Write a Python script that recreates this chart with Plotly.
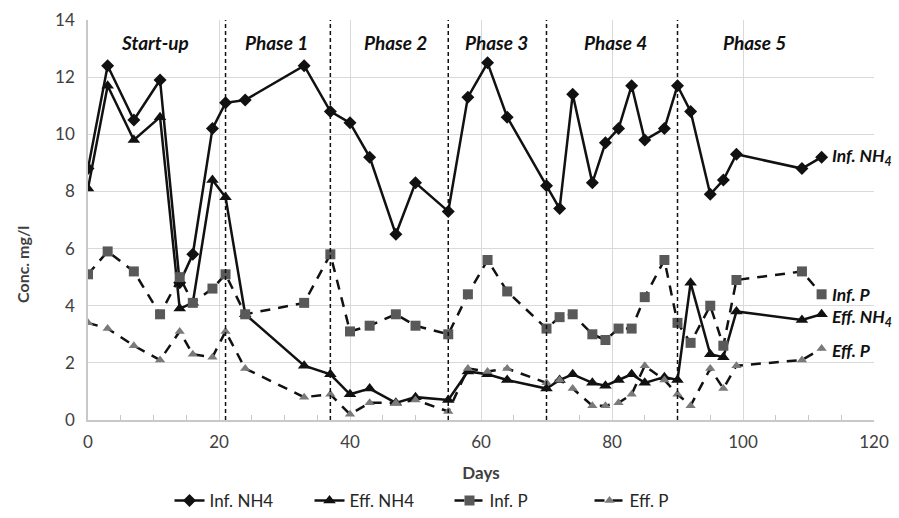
import plotly.graph_objects as go

# ---------------- data ----------------
days_inf_nh4 = [0, 3, 7, 11, 14, 16, 19, 21, 24, 33, 37, 40, 43, 47, 50, 55, 58, 61, 64, 70,
                72, 74, 77, 79, 81, 83, 85, 88, 90, 92, 95, 97, 99, 109, 112]
inf_nh4 = [8.8, 12.4, 10.5, 11.9, 4.8, 5.8, 10.2, 11.1, 11.2, 12.4, 10.8, 10.4, 9.2, 6.5, 8.3,
           7.3, 11.3, 12.5, 10.6, 8.2, 7.4, 11.4, 8.3, 9.7, 10.2, 11.7, 9.8, 10.2, 11.7, 10.8,
           7.9, 8.4, 9.3, 8.8, 9.2]

days_eff_nh4 = [0, 3, 7, 11, 14, 16, 19, 21, 24, 33, 37, 40, 43, 47, 50, 55, 58, 61, 64, 70,
                72, 74, 77, 79, 81, 83, 85, 88, 90, 92, 95, 97, 99, 109, 112]
eff_nh4 = [8.1, 11.7, 9.8, 10.6, 3.9, 4.1, 8.4, 7.8, 3.7, 1.9, 1.6, 0.9, 1.1, 0.6, 0.8, 0.7,
           1.7, 1.6, 1.4, 1.1, 1.4, 1.6, 1.3, 1.2, 1.4, 1.6, 1.3, 1.5, 1.4, 4.8, 2.3, 2.2,
           3.8, 3.5, 3.7]

days_inf_p = [0, 3, 7, 11, 14, 16, 19, 21, 24, 33, 37, 40, 43, 47, 50, 55, 58, 61, 64, 70,
              72, 74, 77, 79, 81, 83, 85, 88, 90, 92, 95, 97, 99, 109, 112]
inf_p = [5.1, 5.9, 5.2, 3.7, 5.0, 4.1, 4.6, 5.1, 3.7, 4.1, 5.8, 3.1, 3.3, 3.7, 3.3, 3.0, 4.4,
         5.6, 4.5, 3.2, 3.6, 3.7, 3.0, 2.8, 3.2, 3.2, 4.3, 5.6, 3.4, 2.7, 4.0, 2.6, 4.9, 5.2,
         4.4]

days_eff_p = [0, 3, 7, 11, 14, 16, 19, 21, 24, 33, 37, 40, 43, 47, 50, 55, 58, 61, 64, 70,
              72, 74, 77, 79, 81, 83, 85, 88, 90, 92, 95, 97, 99, 109, 112]
eff_p = [3.4, 3.2, 2.6, 2.1, 3.1, 2.3, 2.2, 3.1, 1.8, 0.8, 0.9, 0.2, 0.6, 0.6, 0.7, 0.3, 1.8,
         1.7, 1.8, 1.3, 1.4, 1.1, 0.5, 0.5, 0.6, 0.9, 1.9, 1.4, 0.9, 0.5, 1.8, 1.1, 1.9, 2.1,
         2.5]

phase_bounds = [21, 37, 55, 70, 90]
phase_names = ["Start-up", "Phase 1", "Phase 2", "Phase 3", "Phase 4", "Phase 5"]
phase_label_x = [10.2, 28.8, 47, 62.3, 80.6, 101.8]
phase_label_y = 13.2

series_labels = ["Inf. NH<sub>4</sub>", "Inf. P", "Eff. NH<sub>4</sub>", "Eff. P"]
series_label_y = [9.2, 4.4, 3.57, 2.45]
series_label_x = 113.3

FONT = "Lato, 'Open Sans', sans-serif"

fig = go.Figure()

fig.add_trace(go.Scatter(
    x=days_inf_nh4, y=inf_nh4, name="Inf. NH4", mode="lines+markers",
    line=dict(color="#111111", width=2.5),
    marker=dict(symbol="diamond", size=10, color="#111111")))
fig.add_trace(go.Scatter(
    x=days_eff_nh4, y=eff_nh4, name="Eff. NH4", mode="lines+markers",
    line=dict(color="#111111", width=2.5),
    marker=dict(symbol="triangle-up", size=11, color="#111111")))
fig.add_trace(go.Scatter(
    x=days_inf_p, y=inf_p, name="Inf. P", mode="lines+markers",
    line=dict(color="#111111", width=2.5, dash="10px,8px"),
    marker=dict(symbol="square", size=10, color="#595959")))
fig.add_trace(go.Scatter(
    x=days_eff_p, y=eff_p, name="Eff. P", mode="lines+markers",
    line=dict(color="#111111", width=2.5, dash="10px,8px"),
    marker=dict(symbol="triangle-up", size=9, color="#7a7a7a")))

for b in phase_bounds:
    fig.add_shape(type="line", xref="x", yref="y", x0=b, x1=b, y0=0, y1=14,
                  line=dict(color="#111111", width=1.5, dash="4px,3px"), layer="above")

for name, px in zip(phase_names, phase_label_x):
    fig.add_annotation(x=px, y=phase_label_y, xref="x", yref="y", text=f"<b><i>{name}</i></b>",
                       showarrow=False, font=dict(family=FONT, size=19, color="#111111"))

for lab, ly in zip(series_labels, series_label_y):
    fig.add_annotation(x=series_label_x, y=ly, xref="x", yref="y", text=f"<b><i>{lab}</i></b>",
                       showarrow=False, xanchor="left",
                       font=dict(family=FONT, size=17.5, color="#111111"))

# y-axis title (placed like the original, below the vertical centre)
fig.add_annotation(x=-0.084, y=0.39, xref="paper", yref="paper", text="<b>Conc. mg/l</b>",
                   textangle=-90, showarrow=False, xanchor="center", yanchor="middle",
                   font=dict(family=FONT, size=16, color="#404040"))

fig.update_layout(
    width=899, height=518,
    margin=dict(l=88, r=25, t=20, b=98, autoexpand=False),
    paper_bgcolor="white", plot_bgcolor="white",
    font=dict(family=FONT, size=17, color="#404040"),
    showlegend=True,
    legend=dict(orientation="h", x=0.5, xanchor="center", xref="container",
                y=0.033, yanchor="middle", yref="container",
                font=dict(family=FONT, size=17, color="#262626"),
                entrywidth=95, entrywidthmode="pixels", tracegroupgap=0),
    xaxis=dict(range=[0, 120], dtick=20, showgrid=True, gridcolor="#d9d9d9", gridwidth=1,
               showline=True, linecolor="#c8c8c8", linewidth=1.5, zeroline=False,
               ticks="", tickfont=dict(size=17, color="#404040"), automargin=False,
               ticklabelstandoff=6,
               minor=dict(dtick=5, ticks="inside", ticklen=5, tickcolor="#c8c8c8",
                          showgrid=False),
               title=dict(text="<b>Days</b>", font=dict(size=17, color="#404040"), standoff=16)),
    yaxis=dict(range=[0, 14], dtick=2, showgrid=True, gridcolor="#d9d9d9", gridwidth=1,
               showline=True, linecolor="#c8c8c8", linewidth=1.5, zeroline=False,
               ticks="", tickfont=dict(size=17, color="#404040"), automargin=False,
               ticklabelstandoff=8),
)

fig.write_html("out.html", post_script="document.body.style.margin='0';",
               config={"displayModeBar": False})
